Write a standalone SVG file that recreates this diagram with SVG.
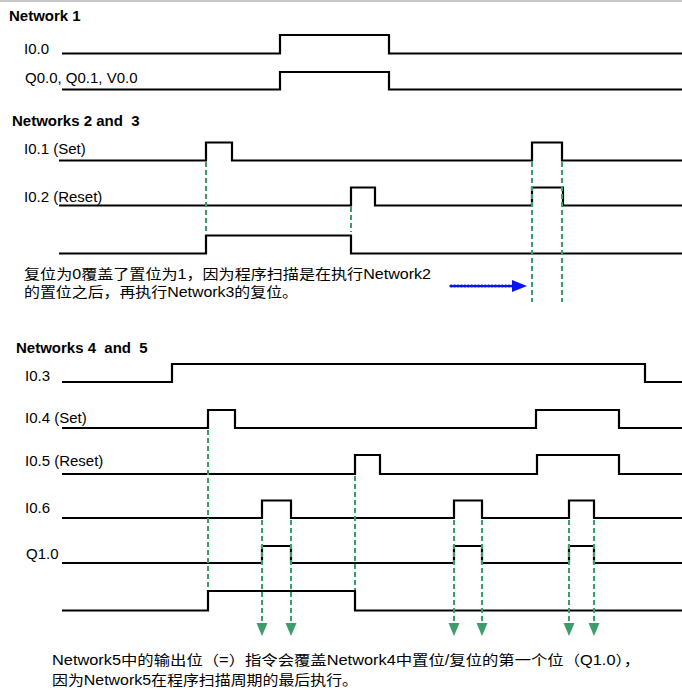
<svg xmlns="http://www.w3.org/2000/svg" width="682" height="690" viewBox="0 0 682 690">
<defs>
<style>
.t{font-family:"Liberation Sans",Arial,sans-serif;font-size:15px;fill:#000;white-space:pre}
.h{font-weight:bold}
.cn{font-family:"Liberation Sans","Noto Sans CJK SC",sans-serif;font-size:14px;fill:#000}
.w{fill:none;stroke:#000;stroke-width:2.2}
.g{fill:none;stroke:#3a9e6a;stroke-width:2;stroke-dasharray:5 3}
.ga{fill:#3a9e6a}
</style>
</defs>
<rect width="682" height="690" fill="#fff"/>
<line x1="0" y1="1" x2="682" y2="1" stroke="#c8c8c8" stroke-width="2"/>

<g id="network1">
<text class="t h" x="9" y="21">Network 1</text>
<g id="I0.0"><text class="t" x="24" y="54">I0.0</text><path class="w" d="M62,53.5 H280 V35 H389 V53.5 H682"/></g>
<g id="Q0.0"><text class="t" x="25" y="83">Q0.0, Q0.1, V0.0</text><path class="w" d="M62,89.5 H280 V72 H389 V89.5 H682"/></g>
</g>

<g id="network23">
<text class="t h" x="12" y="126" xml:space="preserve">Networks 2 and  3</text>
<g id="I0.1"><text class="t" x="24" y="154">I0.1 (Set)</text><path class="w" d="M59,160.5 H206 V142.5 H232 V160.5 H532 V142.5 H562 V160.5 H682"/></g>
<g id="I0.2"><text class="t" x="24" y="202">I0.2 (Reset)</text><path class="w" d="M59,205.5 H351 V187.5 H375 V205.5 H532 V187.5 H563 V205.5 H682"/></g>
<g id="out23"><path class="w" d="M59,253.5 H206 V235.5 H351 V253.5 H682"/></g>
<g id="note23">
<text class="cn" x="24" y="279" textLength="407" lengthAdjust="spacingAndGlyphs">复位为0覆盖了置位为1，因为程序扫描是在执行Network2</text>
<text class="cn" x="24" y="297" textLength="274" lengthAdjust="spacingAndGlyphs">的置位之后，再执行Network3的复位。</text>
</g>
</g>

<g id="network45">
<text class="t h" x="16" y="353" xml:space="preserve">Networks 4  and  5</text>
<g id="I0.3"><text class="t" x="25" y="381">I0.3</text><path class="w" d="M62,382 H172 V364 H645 V382 H682"/></g>
<g id="I0.4"><text class="t" x="25" y="423">I0.4 (Set)</text><path class="w" d="M62,428 H208 V410 H235 V428 H536 V410 H619 V428 H682"/></g>
<g id="I0.5"><text class="t" x="25" y="466">I0.5 (Reset)</text><path class="w" d="M62,474 H355 V455 H380 V474 H537 V455 H619 V474 H682"/></g>
<g id="I0.6"><text class="t" x="25" y="513">I0.6</text><path class="w" d="M62,518 H262 V500.5 H291 V518 H454 V500.5 H482 V518 H569 V500.5 H594 V518 H682"/></g>
<g id="Q1.0"><text class="t" x="26" y="559">Q1.0</text><path class="w" d="M62,563 H262 V546 H291 V563 H454 V546 H482 V563 H569 V546 H594 V563 H682"/></g>
<g id="out45"><path class="w" d="M62,610.5 H208 V591 H355 V610.5 H682"/></g>
<g id="note45">
<text class="cn" x="52" y="665" textLength="588" lengthAdjust="spacingAndGlyphs">Network5中的输出位（=）指令会覆盖Network4中置位/复位的第一个位（Q1.0），</text>
<text class="cn" x="52" y="685" textLength="306" lengthAdjust="spacingAndGlyphs">因为Network5在程序扫描周期的最后执行。</text>
</g>
</g>

<g id="connectors">
<line class="g" x1="206" y1="162" x2="206" y2="231"/>
<line class="g" x1="351" y1="207" x2="351" y2="232"/>
<line class="g" x1="532" y1="162" x2="532" y2="302"/>
<line class="g" x1="562" y1="162" x2="562" y2="302"/>
<line x1="451" y1="286" x2="513" y2="286" stroke="#0a14f0" stroke-width="3.2" stroke-linecap="round" stroke-dasharray="0.6 2.8"/>
<polygon points="512,280 527,286 512,292" fill="#0a14f0"/>
<line class="g" x1="208" y1="430" x2="208" y2="590"/>
<line class="g" x1="355" y1="476" x2="355" y2="590"/>
<line class="g" x1="262" y1="520" x2="262" y2="624"/>
<line class="g" x1="291" y1="520" x2="291" y2="624"/>
<line class="g" x1="454" y1="520" x2="454" y2="624"/>
<line class="g" x1="482" y1="520" x2="482" y2="624"/>
<line class="g" x1="569" y1="520" x2="569" y2="624"/>
<line class="g" x1="594" y1="520" x2="594" y2="624"/>
<polygon class="ga" points="256.5,623 267.5,623 262,636"/>
<polygon class="ga" points="285.5,623 296.5,623 291,636"/>
<polygon class="ga" points="448.5,623 459.5,623 454,636"/>
<polygon class="ga" points="476.5,623 487.5,623 482,636"/>
<polygon class="ga" points="563.5,623 574.5,623 569,636"/>
<polygon class="ga" points="588.5,623 599.5,623 594,636"/>
</g>
</svg>
